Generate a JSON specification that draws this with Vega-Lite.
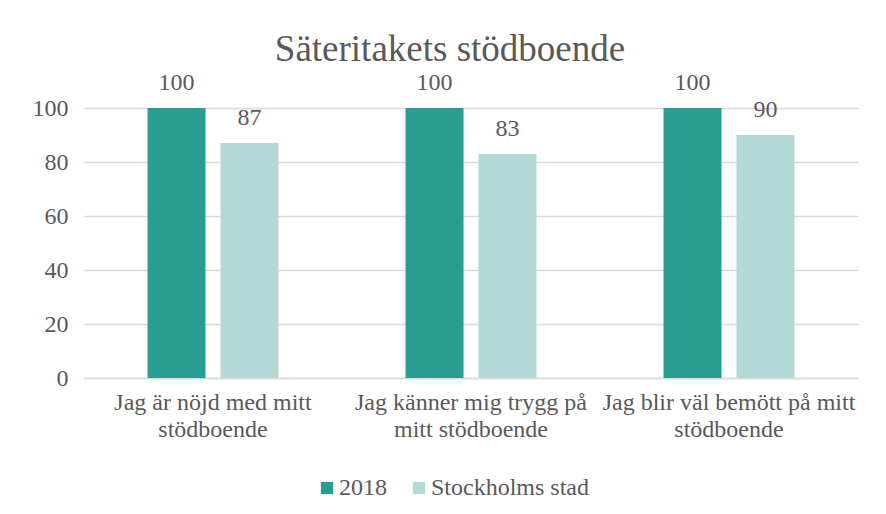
{
  "$schema": "https://vega.github.io/schema/vega-lite/v6.json",
  "width": 774,
  "height": 270,
  "autosize": {"type": "none"},
  "padding": {"left": 84, "top": 108, "right": 28, "bottom": 136},
  "background": "white",
  "config": {
    "font": "Liberation Serif",
    "view": {"stroke": null}
  },
  "title": {
    "text": "Säteritakets stödboende",
    "fontSize": 37,
    "fontWeight": "normal",
    "color": "#595959",
    "font": "Liberation Serif",
    "anchor": "middle",
    "dx": -21,
    "offset": 2
  },
  "data": {
    "values": [
      {"fraga": "Jag är nöjd med mitt stödboende", "serie": "2018", "varde": 100},
      {"fraga": "Jag är nöjd med mitt stödboende", "serie": "Stockholms stad", "varde": 87},
      {"fraga": "Jag känner mig trygg på mitt stödboende", "serie": "2018", "varde": 100},
      {"fraga": "Jag känner mig trygg på mitt stödboende", "serie": "Stockholms stad", "varde": 83},
      {"fraga": "Jag blir väl bemött på mitt stödboende", "serie": "2018", "varde": 100},
      {"fraga": "Jag blir väl bemött på mitt stödboende", "serie": "Stockholms stad", "varde": 90}
    ]
  },
  "encoding": {
    "x": {
      "field": "fraga",
      "type": "nominal",
      "sort": null,
      "scale": {"paddingInner": 0, "paddingOuter": 0},
      "axis": {
        "title": null,
        "labelAngle": 0,
        "labelFontSize": 24,
        "labelColor": "#595959",
        "labelFont": "Liberation Serif",
        "labelLineHeight": 27,
        "labelPadding": 12,
        "labelBaseline": "top",
        "labelLimit": 0,
        "ticks": false,
        "domainColor": "#D9D9D9",
        "domainWidth": 1.5,
        "labelExpr": "datum.label == 'Jag är nöjd med mitt stödboende' ? ['Jag är nöjd med mitt', 'stödboende'] : datum.label == 'Jag känner mig trygg på mitt stödboende' ? ['Jag känner mig trygg på', 'mitt stödboende'] : ['Jag blir väl bemött på mitt', 'stödboende']"
      }
    },
    "xOffset": {
      "field": "serie",
      "type": "nominal",
      "scale": {"paddingInner": 0.205, "paddingOuter": 0.87}
    },
    "y": {
      "field": "varde",
      "type": "quantitative",
      "scale": {"domain": [0, 100]},
      "axis": {
        "title": null,
        "values": [0, 20, 40, 60, 80, 100],
        "labelFontSize": 24,
        "labelColor": "#595959",
        "labelFont": "Liberation Serif",
        "labelPadding": 16,
        "ticks": false,
        "domain": false,
        "gridColor": "#D9D9D9",
        "gridWidth": 1.5
      }
    }
  },
  "layer": [
    {
      "mark": {"type": "bar"},
      "encoding": {
        "color": {
          "field": "serie",
          "type": "nominal",
          "scale": {"domain": ["2018", "Stockholms stad"], "range": ["#2A9D93", "#B4D8D5"]},
          "legend": {
            "title": null,
            "orient": "none",
            "legendX": 231,
            "legendY": 368,
            "direction": "horizontal",
            "symbolType": "square",
            "symbolSize": 150,
            "symbolStrokeWidth": 0,
            "labelFontSize": 24,
            "labelColor": "#595959",
            "labelFont": "Liberation Serif",
            "labelLimit": 0,
            "columnPadding": 20,
            "labelOffset": 0
          }
        }
      }
    },
    {
      "mark": {"type": "text", "baseline": "bottom", "dy": -13, "fontSize": 24, "color": "#595959", "font": "Liberation Serif"},
      "encoding": {
        "text": {"field": "varde", "type": "quantitative"}
      }
    }
  ]
}
